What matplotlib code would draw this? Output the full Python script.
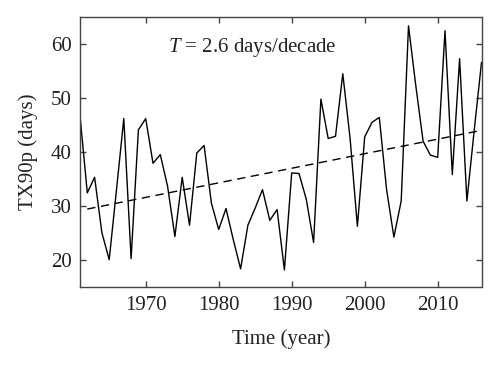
import numpy as np
import matplotlib
matplotlib.use("Agg")
import matplotlib.pyplot as plt

plt.rcParams['font.family'] = ['Liberation Serif', 'DejaVu Serif']
plt.rcParams['mathtext.fontset'] = 'custom'
plt.rcParams['mathtext.it'] = 'Liberation Serif:italic'
plt.rcParams['mathtext.rm'] = 'Liberation Serif'

# annual TX90p values (days)
years = np.arange(1961, 2017)
tx90p = [46.7, 32.4, 35.3, 25.0, 20.0, 33.0, 46.2, 20.2, 44.1, 46.2,
         37.9, 39.5, 33.6, 24.3, 35.3, 26.4, 39.8, 41.2, 30.5, 25.6,
         29.5, 23.7, 18.3, 26.4, 29.6, 33.0, 27.3, 29.3, 18.1, 36.1,
         36.0, 31.2, 23.2, 49.8, 42.5, 42.9, 54.5, 42.5, 26.2, 42.8,
         45.5, 46.4, 33.0, 24.2, 30.9, 63.4, 52.3, 42.0, 39.4, 39.0,
         62.5, 35.8, 57.3, 30.9, 44.0, 56.6]

# linear trend end points
trend_years = [1962, 2016]
trend_values = [29.4, 44.0]

fig = plt.figure(figsize=(5, 3.67), dpi=100)
ax = fig.add_axes([0.16, 0.219, 0.803, 0.734])

ax.plot(years, tx90p, color='black', lw=1.0)
ax.plot(trend_years, trend_values, color='black', lw=1.0, ls=(0, (6, 4)))

ax.set_xlim(1961, 2016)
ax.set_ylim(15, 65)
ax.set_xticks([1970, 1980, 1990, 2000, 2010])
ax.set_yticks([20, 30, 40, 50, 60])

for s in ax.spines.values():
    s.set_color('#444444')
    s.set_linewidth(1.0)
ax.tick_params(direction='in', length=4, width=1, colors='#444444',
               labelcolor='#222222', labelsize=15, top=True, right=True)
ax.tick_params(axis='x', pad=7)
ax.tick_params(axis='y', pad=6)

ax.set_xlabel('Time (year)', fontsize=15, color='#222222', labelpad=10)
ax.set_ylabel('TX90p (days)', fontsize=15, color='#222222', labelpad=9)

ax.text(0.219, 0.886, '$T$ = 2.6 days/decade', transform=ax.transAxes,
        fontsize=15, color='#222222', va='center', ha='left')

fig.savefig('out.png', dpi=100)
